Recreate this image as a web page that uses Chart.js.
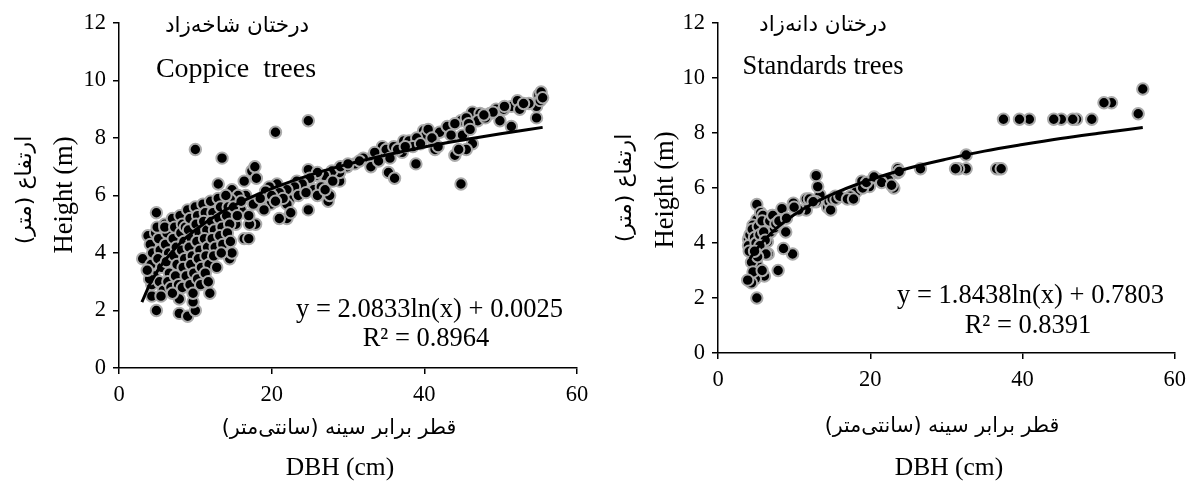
<!DOCTYPE html>
<html>
<head>
<meta charset="utf-8">
<script src="https://cdn.jsdelivr.net/npm/chart.js@4.4.1/dist/chart.umd.min.js"></script>
<style>
  html, body { margin: 0; padding: 0; background: #fff; }
  #wrap { position: relative; width: 1194px; height: 482px; }
  #left { position: absolute; left: 0; top: 0; }
  #right { position: absolute; left: 600px; top: 0; }
</style>
</head>
<body>
<div id="wrap">
  <canvas id="left" width="600" height="482"></canvas>
  <canvas id="right" width="594" height="482"></canvas>
</div>
<script>
// coppice trees (left)
const coppiceDbh = [
  3.1, 4.9, 3.8, 4.9, 4.3, 7.9, 9.0, 10.0, 9.7, 7.9,
  9.0, 11.9, 10.0, 13.5, 13.0, 20.5, 24.8, 24.8, 22.0, 21.0,
  16.4, 17.0, 14.5, 14.8, 17.4, 17.8, 16.4, 14.8, 17.9, 17.1,
  15.3, 27.4, 27.6, 28.9, 35.3, 36.1, 38.9, 37.1, 44.0, 44.8,
  45.0, 46.3, 41.4, 51.4, 49.9, 54.7, 54.7, 53.7, 51.4, 55.0,
  55.3, 37.3, 39.9, 40.2, 41.2, 42.7, 44.8, 46.3, 47.3, 48.6,
  49.4, 50.4, 52.2, 34.5, 34.8, 33.0, 32.0, 30.9, 29.9, 28.9,
  27.9, 26.9, 25.8, 24.8, 23.3, 22.8, 22.3, 22.0, 20.7, 19.7,
  19.2, 19.9, 18.7, 17.6, 16.6, 15.6, 14.6, 13.6, 12.5, 11.5,
  10.5, 31.5, 33.5, 35.0, 36.0, 38.0, 39.0, 40.5, 42.0, 43.0,
  44.0, 45.5, 47.0, 48.0, 49.0, 50.5, 52.5, 53.0, 55.2, 55.5,
  36.5, 38.5, 41.0, 43.5, 45.8, 47.8, 29.0, 30.0, 26.0, 25.0,
  24.0, 23.0, 22.0, 21.0, 20.0, 23.5, 25.5, 26.5, 24.5, 21.5,
  20.5, 18.5, 19.0, 16.0, 17.0, 18.0, 22.5, 26.0, 27.0, 28.0,
  33.0, 34.0, 46.0, 45.5, 35.5, 37.5, 44.5, 39.5, 41.8,
  4.1, 4.4, 4.2, 4.6, 4.3, 4.0, 3.7, 4.8,
  5.2, 5.4, 5.1, 5.6, 5.3, 5.8, 5.5, 5.0,
  6.0, 6.3, 6.1, 6.5, 6.2, 6.6, 6.4, 6.8, 6.0,
  7.0, 7.3, 7.1, 7.5, 7.2, 7.6, 7.4, 7.8, 7.0,
  8.0, 8.3, 8.1, 8.5, 8.2, 8.6, 8.4, 8.8, 8.3, 8.7,
  9.0, 9.3, 9.1, 9.5, 9.2, 9.6, 9.4, 9.8, 9.3, 9.7,
  10.0, 10.3, 10.1, 10.5, 10.2, 10.6, 10.4, 10.8, 10.3, 10.7,
  11.0, 11.3, 11.1, 11.5, 11.2, 11.6, 11.4, 11.8, 11.3, 11.7,
  12.0, 12.3, 12.1, 12.5, 12.2, 12.6, 12.4, 12.8,
  13.0, 13.3, 13.1, 13.5, 13.2, 13.6, 13.4,
  14.0, 14.3, 14.1, 14.5, 14.2, 14.6, 15.0, 15.5, 16.0
];
const coppiceHeight = [
  3.8, 5.4, 4.6, 2.0, 2.5, 1.9, 1.8, 2.0, 2.3, 2.4,
  3.0, 2.6, 7.6, 7.3, 6.4, 8.2, 8.6, 5.5, 5.2, 5.2,
  4.5, 4.5, 3.8, 4.0, 6.85, 7.0, 6.5, 6.2, 5.0, 5.0,
  5.0, 5.8, 6.0, 6.5, 6.8, 6.6, 7.1, 7.5, 7.4, 6.4,
  8.1, 7.8, 7.6, 8.4, 8.6, 8.7, 9.1, 9.2, 9.1, 9.5,
  9.6, 7.9, 8.25, 8.1, 7.9, 8.25, 8.6, 8.9, 8.85, 8.85,
  9.0, 9.0, 9.3, 7.7, 7.4, 7.3, 7.3, 7.1, 7.0, 6.8,
  6.85, 6.7, 6.7, 6.9, 6.5, 6.2, 5.85, 5.7, 6.4, 6.3,
  6.15, 5.7, 5.6, 5.7, 6.0, 6.0, 5.85, 5.7, 5.6, 5.5,
  5.4, 7.2, 7.5, 7.6, 7.7, 7.9, 8.0, 8.3, 8.2, 8.4,
  8.5, 8.7, 8.6, 8.7, 8.9, 9.1, 9.0, 9.2, 9.3, 9.4,
  7.6, 7.7, 8.0, 8.1, 8.5, 8.8, 7.0, 7.1, 6.8, 6.6,
  6.4, 6.3, 6.2, 6.1, 6.0, 6.0, 6.2, 6.3, 6.1, 5.9,
  5.8, 5.9, 5.5, 5.5, 5.3, 6.6, 5.4, 6.0, 6.2, 6.5,
  7.0, 7.2, 8.3, 7.6, 7.3, 7.7, 7.6, 7.8, 7.7,
  4.3, 4.0, 3.6, 3.2, 2.9, 3.1, 3.4, 4.7,
  4.5, 4.1, 3.8, 3.5, 3.0, 2.7, 2.5, 4.9,
  5.0, 4.7, 4.3, 4.0, 3.7, 3.3, 3.0, 2.8, 4.9,
  5.2, 4.9, 4.5, 4.2, 3.9, 3.6, 3.2, 2.9, 2.6,
  5.3, 5.0, 4.7, 4.4, 4.1, 3.8, 3.5, 3.2, 2.8, 4.9,
  5.5, 5.2, 4.8, 4.5, 4.2, 3.9, 3.6, 3.3, 2.9, 2.6,
  5.6, 5.3, 5.0, 4.7, 4.4, 4.1, 3.8, 3.5, 3.1, 2.9,
  5.7, 5.4, 5.1, 4.8, 4.5, 4.2, 3.9, 3.6, 3.3, 3.0,
  5.8, 5.4, 5.1, 4.8, 4.5, 4.2, 3.9, 3.5,
  5.9, 5.6, 5.2, 4.9, 4.6, 4.3, 4.0,
  6.0, 5.6, 5.3, 5.0, 4.7, 4.4, 5.6, 5.3, 5.8
];
const coppiceTrendX = [3, 4, 5, 6, 8, 10, 13, 16, 20, 25, 30, 35, 40, 45, 50, 55.5];
const coppiceTrendY = [2.29, 2.89, 3.36, 3.74, 4.34, 4.80, 5.35, 5.78, 6.24, 6.71, 7.09, 7.41, 7.69, 7.93, 8.15, 8.37];

// standards trees (right)
const standardsDbh = [
  55.8, 55.2, 51.7, 50.7, 49.1, 47.1, 46.6, 45.1, 44.1, 40.9,
  39.6, 37.5, 36.9, 36.6, 37.2, 32.6, 31.6, 31.2, 32.6, 26.6,
  23.6, 23.6, 23.1, 22.4, 21.1, 20.1, 19.9, 18.9, 18.1, 17.4,
  15.4, 14.4, 14.6, 13.4, 13.1, 12.9, 12.9, 11.6, 11.6, 10.6,
  9.9, 9.8, 8.6, 8.9, 8.4, 8.4, 7.9, 7.1, 6.6, 6.5,
  6.4, 6.4, 6.1, 5.4, 5.1, 5.1, 5.1, 5.1, 4.9, 4.4,
  4.0, 4.0, 4.1, 4.4, 4.6, 3.9, 4.6, 5.6, 6.9, 5.9,
  7.4, 4.2, 4.5, 4.8, 5.0, 5.3, 5.5, 5.8, 6.0, 6.2,
  5.5, 6.8, 7.2, 7.6, 6.3, 5.2, 5.8, 4.8, 12.0, 12.5,
  14.8, 15.0, 15.5, 16.0, 17.0, 17.8, 19.0, 19.5, 20.5, 21.5,
  22.8, 23.8, 8.0, 9.0, 10.0
];
const standardsHeight = [
  9.6, 8.7, 9.1, 9.1, 8.5, 8.5, 8.5, 8.5, 8.5, 8.5,
  8.5, 8.5, 6.7, 6.7, 6.7, 6.7, 6.7, 6.7, 7.2, 6.7,
  6.55, 6.7, 6.0, 6.3, 6.3, 6.25, 6.05, 6.25, 5.85, 5.7,
  5.7, 5.3, 5.5, 5.75, 6.05, 6.45, 5.5, 5.6, 5.2, 5.2,
  5.45, 3.6, 3.8, 4.4, 4.9, 5.25, 3.0, 5.0, 3.6, 4.05,
  4.9, 4.55, 2.8, 4.4, 5.4, 4.85, 2.0, 3.25, 2.7, 2.55,
  4.15, 3.9, 3.7, 3.3, 2.95, 2.65, 4.65, 5.1, 4.4, 5.0,
  4.55, 4.3, 4.5, 4.2, 4.0, 4.6, 4.3, 4.8, 4.4, 4.1,
  3.9, 4.8, 5.0, 4.7, 3.6, 3.5, 3.0, 3.7, 5.6, 5.5,
  5.2, 5.6, 5.6, 5.7, 5.6, 5.6, 6.0, 6.2, 6.4, 6.2,
  6.1, 6.6, 4.8, 4.9, 5.3
];
const standardsTrendX = [4.2, 5, 6, 8, 10, 13, 16, 20, 25, 30, 35, 40, 45, 50, 55.8];
const standardsTrendY = [3.43, 3.75, 4.08, 4.61, 5.03, 5.51, 5.89, 6.30, 6.72, 7.05, 7.34, 7.58, 7.80, 7.99, 8.20];

const xTicks = [0, 20, 40, 60];
const yTicks = [0, 2, 4, 6, 8, 10, 12];

const serif = "'Liberation Serif', 'Times New Roman', serif";
const persian = "'DejaVu Sans', 'Noto Sans', sans-serif";

function pairs(xs, ys) {
  return xs.map((x, i) => ({ x: x, y: ys[i] }));
}

// draws the free text (titles, equations, axis titles)
const textPlugin = {
  id: 'texts',
  afterDraw(chart, args, opts) {
    const ctx = chart.ctx;
    (opts.items || []).forEach(t => {
      ctx.save();
      ctx.fillStyle = '#000';
      ctx.font = t.font;
      ctx.textBaseline = 'middle';
      ctx.textAlign = t.align || 'center';
      ctx.direction = t.rtl ? 'rtl' : 'ltr';
      ctx.translate(t.x, t.y);
      if (t.rotate) ctx.rotate(-Math.PI / 2);
      ctx.fillText(t.text, 0, 0);
      ctx.restore();
    });
  }
};

function makeChart(id, dbh, height, trendX, trendY, box, items) {
  const ctx = document.getElementById(id).getContext('2d');
  return new Chart(ctx, {
    type: 'scatter',
    data: {
      datasets: [{
        type: 'line',
        data: pairs(trendX, trendY),
        borderColor: '#000',
        borderWidth: 3,
        pointRadius: 0,
        cubicInterpolationMode: 'monotone',
        fill: false,
        order: 0
      }, {
        data: pairs(dbh, height),
        backgroundColor: '#000',
        borderColor: '#ababab',
        borderWidth: 2,
        pointRadius: 5.7,
        order: 1
      }]
    },
    options: {
      responsive: false,
      animation: false,
      layout: { padding: { left: 0, top: box.top, right: box.right, bottom: 0 } },
      plugins: {
        legend: { display: false },
        tooltip: { enabled: false },
        texts: { items: items }
      },
      scales: {
        x: {
          type: 'linear',
          min: 0, max: 60,
          afterFit: s => { s.height = box.xHeight; },
          afterBuildTicks: s => { s.ticks = xTicks.map(v => ({ value: v })); },
          grid: { drawOnChartArea: false, color: '#000', tickLength: 6, lineWidth: 1.5 },
          border: { color: '#000', width: 1.5 },
          ticks: { color: '#000', font: { family: serif, size: 22.5 }, padding: 8, maxRotation: 0 }
        },
        y: {
          type: 'linear',
          min: 0, max: 12,
          afterFit: s => { s.width = box.yWidth; },
          afterBuildTicks: s => { s.ticks = yTicks.map(v => ({ value: v })); },
          grid: { drawOnChartArea: false, color: '#000', tickLength: 6, lineWidth: 1.5 },
          border: { color: '#000', width: 1.5 },
          ticks: { color: '#000', font: { family: serif, size: 22.5 }, padding: 7 }
        }
      }
    },
    plugins: [textPlugin]
  });
}

makeChart('left', coppiceDbh, coppiceHeight, coppiceTrendX, coppiceTrendY,
  { top: 23, right: 23, xHeight: 114, yWidth: 119 },
  [
    { text: 'درختان شاخه‌زاد', x: 237, y: 26, font: '21.5px ' + persian, rtl: true },
    { text: 'Coppice  trees', x: 236, y: 70, font: '28px ' + serif },
    { text: 'y = 2.0833ln(x) + 0.0025', x: 563, y: 310, font: '26.5px ' + serif, align: 'right' },
    { text: 'R² = 0.8964', x: 426, y: 339, font: '26.5px ' + serif },
    { text: 'قطر برابر سینه (سانتی‌متر)', x: 339, y: 429, font: '20.5px ' + persian, rtl: true },
    { text: 'DBH (cm)', x: 340, y: 468, font: '25.5px ' + serif },
    { text: 'Height (m)', x: 65, y: 195, font: '26.5px ' + serif, rotate: true },
    { text: 'ارتفاع (متر)', x: 25, y: 190, font: '22px ' + persian, rotate: true, rtl: true }
  ]);

makeChart('right', standardsDbh, standardsHeight, standardsTrendX, standardsTrendY,
  { top: 23, right: 14, xHeight: 129, yWidth: 118 },
  [
    { text: 'درختان دانه‌زاد', x: 223, y: 25, font: '21.5px ' + persian, rtl: true },
    { text: 'Standards trees', x: 223, y: 67, font: '26.5px ' + serif },
    { text: 'y = 1.8438ln(x) + 0.7803', x: 564, y: 296, font: '26.5px ' + serif, align: 'right' },
    { text: 'R² = 0.8391', x: 428, y: 326, font: '26.5px ' + serif },
    { text: 'قطر برابر سینه (سانتی‌متر)', x: 342, y: 427, font: '20.5px ' + persian, rtl: true },
    { text: 'DBH (cm)', x: 349, y: 468, font: '25.5px ' + serif },
    { text: 'Height (m)', x: 66, y: 190, font: '26.5px ' + serif, rotate: true },
    { text: 'ارتفاع (متر)', x: 25, y: 188, font: '22px ' + persian, rotate: true, rtl: true }
  ]);
</script>
</body>
</html>
